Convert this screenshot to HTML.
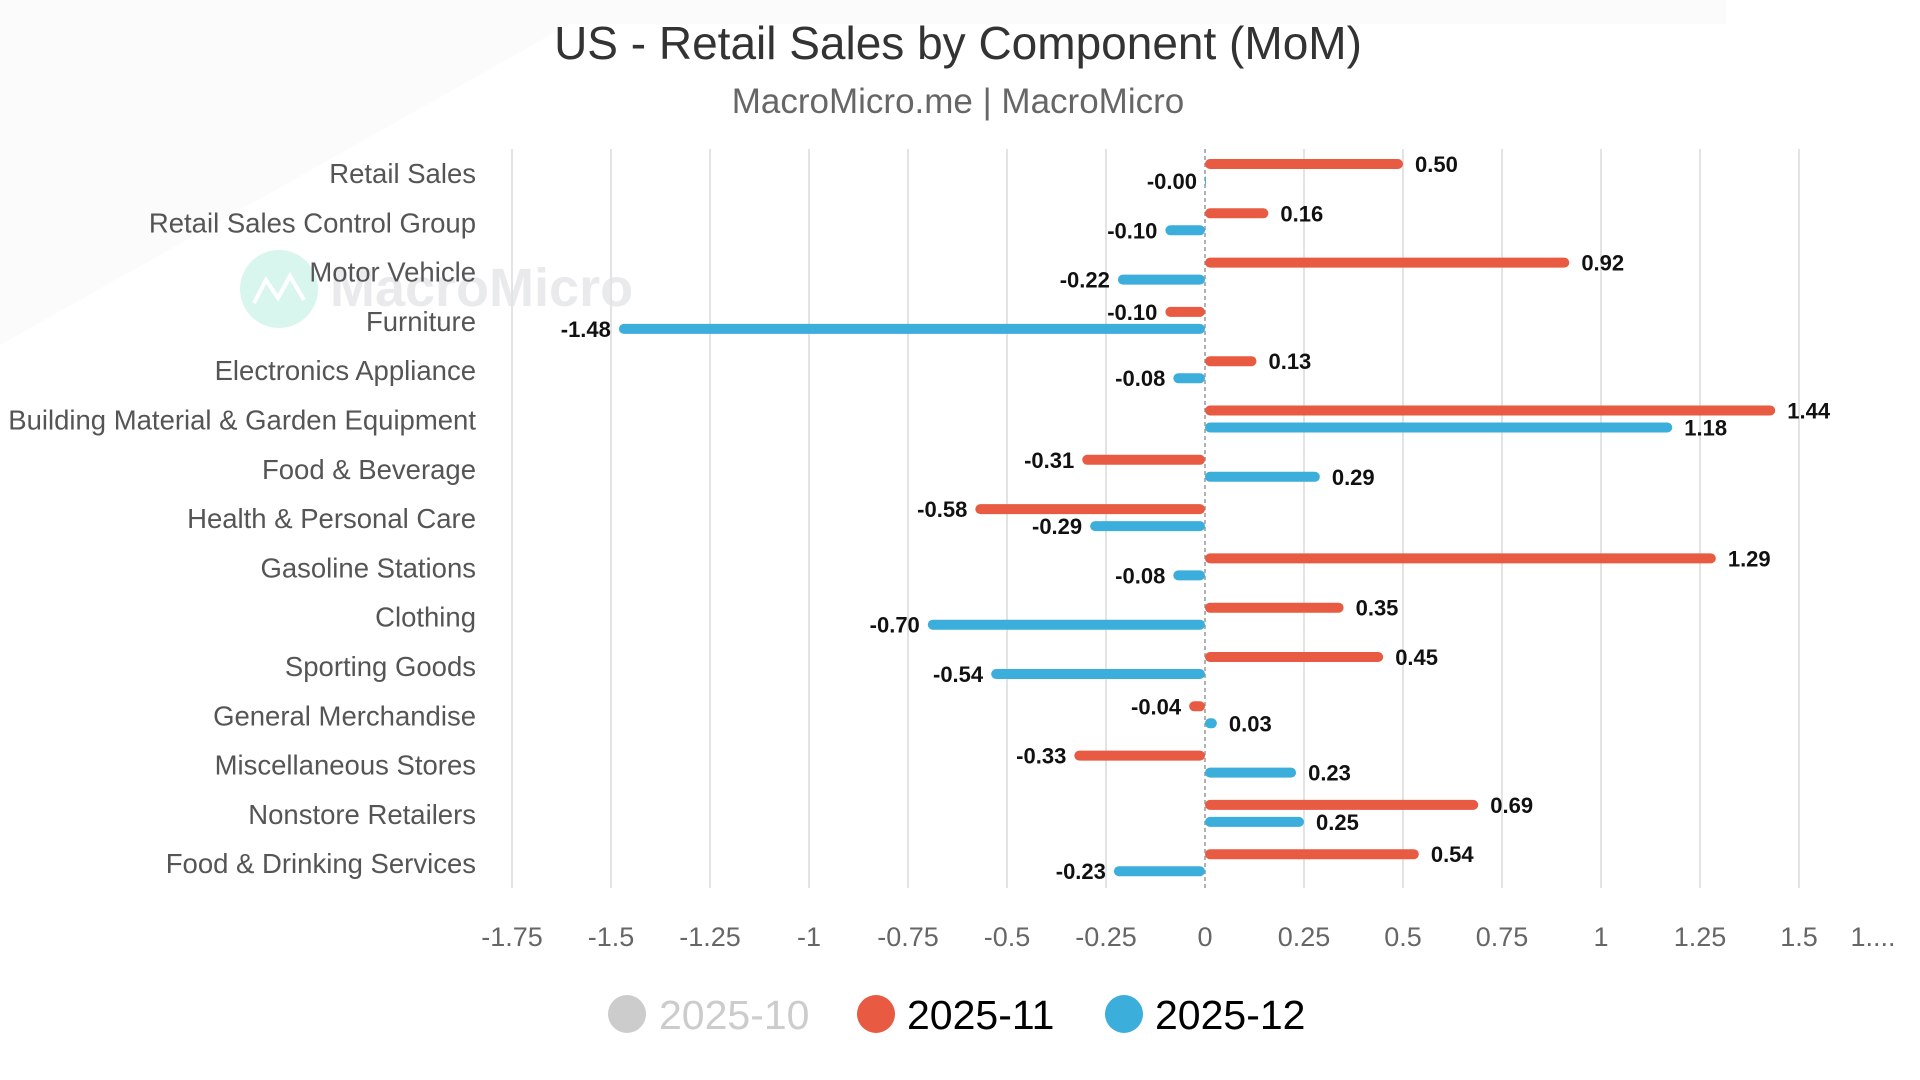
<!DOCTYPE html>
<html><head><meta charset="utf-8"><style>
html,body{margin:0;padding:0;background:#fff;width:1920px;height:1080px;overflow:hidden;font-family:"Liberation Sans",sans-serif}
</style></head><body>
<svg id="chart" width="1920" height="1080" xmlns="http://www.w3.org/2000/svg" font-family="Liberation Sans, sans-serif">
<polygon points="0,0 1726,0 1726,24 570,24 0,345" fill="#fbfbfb"/>
<g>
<circle cx="279" cy="289" r="39" fill="#d8f6ee"/>
<polyline points="254,303 266,280 278,298 290,276 304,300" fill="none" stroke="#fff" stroke-width="4"/>
<text x="330" y="306" font-size="54" font-weight="bold" fill="#e8eaec">MacroMicro</text>
</g>
<text x="958" y="59" text-anchor="middle" font-size="46" fill="#333">US - Retail Sales by Component (MoM)</text>
<text x="958" y="113" text-anchor="middle" font-size="35" fill="#666">MacroMicro.me | MacroMicro</text>
<g id="grid"></g><g id="ylabels"></g><g id="bars"></g><g id="xlabels"></g>
<g>
<g><circle cx="627" cy="1014" r="19" fill="#ccc"/><text x="659" y="1029" font-size="41" fill="#ccc">2025-10</text></g>
<g><circle cx="876" cy="1014" r="19" fill="#e85a41"/><text x="907" y="1029" font-size="41" fill="#000">2025-11</text></g>
<g><circle cx="1124" cy="1014" r="19" fill="#3caedb"/><text x="1155" y="1029" font-size="41" fill="#000">2025-12</text></g>
</g>
</svg>
<script>
const categories=["Retail Sales","Retail Sales Control Group","Motor Vehicle","Furniture","Electronics Appliance","Building Material & Garden Equipment","Food & Beverage","Health & Personal Care","Gasoline Stations","Clothing","Sporting Goods","General Merchandise","Miscellaneous Stores","Nonstore Retailers","Food & Drinking Services"];
const nov=[0.50,0.16,0.92,-0.10,0.13,1.44,-0.31,-0.58,1.29,0.35,0.45,-0.04,-0.33,0.69,0.54];
const dec=[-0.00,-0.10,-0.22,-1.48,-0.08,1.18,0.29,-0.29,-0.08,-0.70,-0.54,0.03,0.23,0.25,-0.23];
const ticks=[-1.75,-1.5,-1.25,-1,-0.75,-0.5,-0.25,0,0.25,0.5,0.75,1,1.25,1.5,1.75];
const tickLabels=["-1.75","-1.5","-1.25","-1","-0.75","-0.5","-0.25","0","0.25","0.5","0.75","1","1.25","1.5","1...."];
const NS="http://www.w3.org/2000/svg";
const xs=v=>1205+v*396;
const yc=i=>174+i*49.3;
function mk(tag,attrs,parent,txt){const e=document.createElementNS(NS,tag);for(const k in attrs)e.setAttribute(k,attrs[k]);if(txt!==undefined)e.textContent=txt;document.getElementById(parent).appendChild(e);return e;}
ticks.forEach((t,i)=>{
  if(t!==0&&t<1.75){const g=mk('line',{x1:xs(t),x2:xs(t),y1:149,y2:888,stroke:'#e3e3e3','stroke-width':2},'grid');
  
  }
  const tl=mk('text',{x:t===1.75?1873:xs(t),y:946,'text-anchor':'middle','font-size':27,fill:'#666'},'xlabels',tickLabels[i]);
  
  
});
const zl=mk('line',{x1:xs(0),x2:xs(0),y1:149,y2:888,stroke:'#999','stroke-width':1.5,'stroke-dasharray':'4,3'},'grid');


categories.forEach((c,i)=>{
  const t=mk('text',{x:476,y:yc(i)+9,'text-anchor':'end','font-size':27.5,fill:'#555'},'ylabels',c);
  
  
});
function series(vals,color,off,name){
  vals.forEach((v,i)=>{
    const y=yc(i)+off, x0=xs(0), x1=xs(v);
    const b=mk('rect',{x:Math.min(x0,x1),y:y-5,width:Math.max(Math.abs(x1-x0),1),height:10,rx:5,fill:color},'bars');
    
    
    const neg=v<0||Object.is(v,-0);
    const l=mk('text',{x:neg?x1-8:x1+12,y:y+8,'text-anchor':neg?'end':'start','font-size':22,'font-weight':'bold',fill:'#111'},'bars',(neg&&v===0?'-':'')+v.toFixed(2));
    
    
  });
}
series(nov,'#e85a41',-10,'nov');
series(dec,'#3caedb',7,'dec');
</script>
</body></html>
